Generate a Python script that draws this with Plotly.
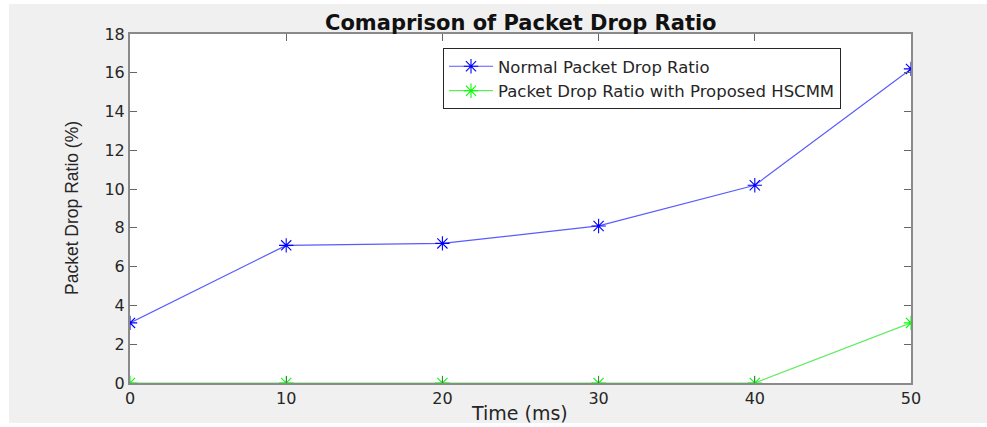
import plotly.graph_objects as go

time_ms = [0, 10, 20, 30, 40, 50]
normal_pdr = [3.1, 7.1, 7.2, 8.1, 10.2, 16.2]
hscmm_pdr = [0, 0, 0, 0, 0, 3.1]
x_ticks = [0, 10, 20, 30, 40, 50]
y_ticks = [0, 2, 4, 6, 8, 10, 12, 14, 16, 18]

W, H = 987, 427
L, R, T, B = 130, 911, 34, 383
PW, PH = R - L, B - T


def px_x(x):
    return (x - L) / PW


def px_y(y):
    return (B - y) / PH


fig = go.Figure()
fig.add_trace(go.Scatter(
    x=time_ms, y=normal_pdr, mode="lines+markers",
    name="Normal Packet Drop Ratio",
    line=dict(color="rgb(90,90,255)", width=1.2),
    marker=dict(symbol="asterisk-open", size=12, color="rgb(0,0,255)",
                line=dict(color="rgb(20,20,255)", width=1.1)),
))
fig.add_trace(go.Scatter(
    x=time_ms, y=hscmm_pdr, mode="lines+markers",
    name="Packet Drop Ratio with Proposed HSCMM",
    line=dict(color="rgb(95,235,95)", width=1.2),
    marker=dict(symbol="asterisk-open", size=12, color="rgb(0,255,0)",
                line=dict(color="rgb(10,235,10)", width=1.1)),
))

axis_common = dict(
    showgrid=False, zeroline=False, showline=True, mirror="ticks",
    linecolor="#8a8a8a", linewidth=2, ticks="inside", ticklen=7,
    tickcolor="#666666", tickwidth=1,
    tickfont=dict(family="DejaVu Sans", size=16, color="#262626"),
)
fig.update_xaxes(range=[0, 50], tickvals=x_ticks, **axis_common)
fig.update_yaxes(range=[0, 18], tickvals=y_ticks, **axis_common)

shapes = []
# white strips around the grey figure panel
for x0, x1, y0, y1 in [(0, W, 0, 4), (0, 9, 0, H), (0, W, 423, H)]:
    shapes.append(dict(type="rect", xref="paper", yref="paper",
                       x0=px_x(x0), x1=px_x(x1), y0=px_y(y1), y1=px_y(y0),
                       fillcolor="white", line=dict(width=0), layer="above"))

annotations = [
    dict(text="<b>Comaprison of Packet Drop Ratio</b>", xref="paper", yref="paper",
         x=px_x(521), y=px_y(23), xanchor="center", yanchor="middle", showarrow=False,
         font=dict(family="DejaVu Sans", size=21, color="#111111")),
    dict(text="Time (ms)", xref="paper", yref="paper",
         x=px_x(519), y=px_y(400), xanchor="center", yanchor="top", showarrow=False,
         font=dict(family="DejaVu Sans", size=19, color="#262626")),
    dict(text="Packet Drop Ratio (%)", xref="paper", yref="paper",
         x=px_x(72), y=px_y(208), xanchor="center", yanchor="middle", showarrow=False,
         textangle=-90,
         font=dict(family="Liberation Sans", size=17.5, color="#262626")),
]

fig.update_layout(
    width=W, height=H,
    margin=dict(l=L, r=W - R, t=T, b=H - B, pad=0),
    paper_bgcolor="#f0f0f0", plot_bgcolor="white",
    showlegend=True,
    legend=dict(x=px_x(443), y=px_y(48), xanchor="left", yanchor="top",
                bgcolor="white", bordercolor="#262626", borderwidth=1,
                font=dict(family="DejaVu Sans", size=16.5, color="#262626"),
                itemwidth=44, tracegroupgap=0),
    shapes=shapes, annotations=annotations,
)

fig.write_html("out.html")
